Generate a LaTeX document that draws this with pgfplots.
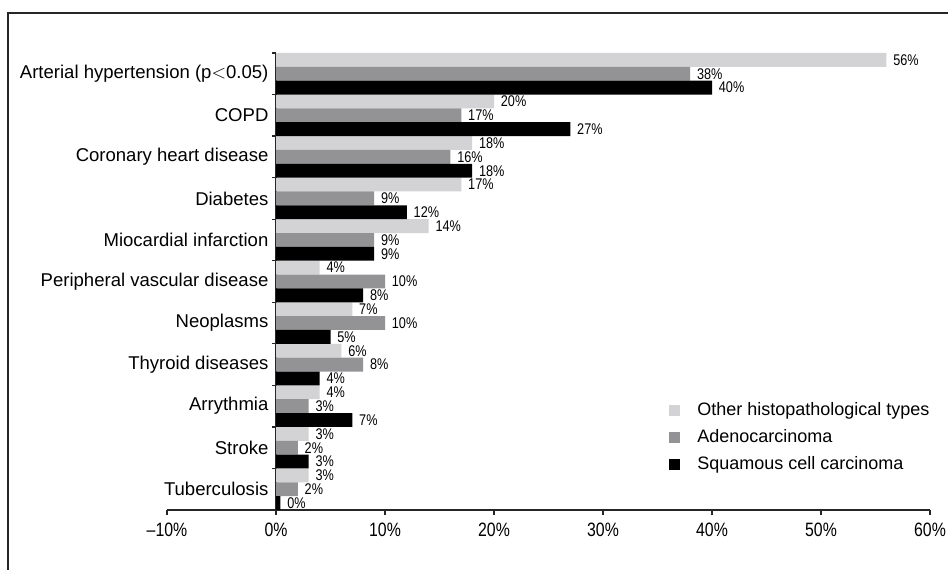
\documentclass[border=0pt]{standalone}
\usepackage{fontspec}
\setmainfont{Liberation Sans}
\newfontfamily\narrowfont[FakeStretch=0.82]{Liberation Sans}
\usepackage{pgfplots}
\usepackage{pgfplotstable}
\pgfplotsset{compat=1.18}

\definecolor{otherc}{RGB}{211,211,213}
\definecolor{adenoc}{RGB}{147,147,150}
\definecolor{squamc}{RGB}{0,0,0}

% Prevalence of comorbidities (%) by histopathological type
% y = category position (10 = top row)
\pgfplotstableread{
y  other adeno squam
10 56    38    40
9  20    17    27
8  18    16    18
7  17    9     12
6  14    9     9
5  4     10    8
4  7     10    5
3  6     8     4
2  4     3     7
1  3     2     3
0  3     2     0.4
}\comorb

\begin{document}
\begin{tikzpicture}
\path[use as bounding box] (0,0) rectangle (711pt,427.5pt);
\draw[line width=1.1pt, black!85] (6pt,-1pt) -- (6pt,417.75pt) -- (712pt,417.75pt);
\begin{axis}[
  at={(125.25pt,45pt)}, anchor=south west,
  scale only axis, width=572.25pt, height=342.75pt,
  xbar, bar width=0.3333,
  xmin=-10, xmax=60, ymin=-0.5, ymax=10.5,
  axis x line=bottom, axis y line=center,
  x axis line style={-}, y axis line style={-},
  axis line style={line width=0.9pt, black!85},
  clip=false,
  /pgf/number format/assume math mode=true,
  xtick={-10,0,10,20,30,40,50,60},
  xticklabels={–10\%,0\%,10\%,20\%,30\%,40\%,50\%,60\%},
  tick align=outside,
  major tick length=4pt,
  minor tick length=3pt,
  every tick/.style={line width=0.9pt, black!85},
  xticklabel style={font=\narrowfont\fontsize{14.5pt}{17pt}\selectfont, yshift=-2.5pt},
  ytick={0,...,10},
  yticklabels={Tuberculosis,Stroke,Arrythmia,Thyroid diseases,Neoplasms,Peripheral vascular disease,Miocardial infarction,Diabetes,Coronary heart disease,COPD,Arterial hypertension (p$<$0.05)},
  minor ytick={-0.5,0.5,...,10.5},
  major y tick style={draw=none},
  yticklabel style={font=\fontsize{13.9pt}{16pt}\selectfont, inner xsep=0pt, xshift=-1.5pt},
  point meta=x,
  nodes near coords={\pgfmathprintnumber[fixed,precision=0]{\pgfplotspointmeta}\%},
  every node near coord/.append style={font=\narrowfont\fontsize{11.6pt}{13pt}\selectfont, anchor=west, inner sep=0pt, xshift=5pt},
  legend cell align=left,
  legend style={draw=none, fill=none, at={(0.658,0.241)}, anchor=north west,
    inner sep=0pt, row sep=5pt, font=\fontsize{13.5pt}{16pt}\selectfont,
    nodes={inner xsep=0pt},
    /tikz/every odd column/.append style={column sep=12.75pt}},
  legend image code/.code={\fill[#1, draw=none] (0pt,-4.125pt) rectangle (8.25pt,4.125pt);},
]
\addplot[fill=otherc, draw=none, bar shift=0.3333] table[x=other, y=y] {\comorb};
\addplot[fill=adenoc, draw=none, bar shift=0] table[x=adeno, y=y] {\comorb};
\addplot[fill=squamc, draw=none, bar shift=-0.3333] table[x=squam, y=y] {\comorb};
\legend{Other histopathological types, Adenocarcinoma, Squamous cell carcinoma}
\end{axis}
\end{tikzpicture}
\end{document}
